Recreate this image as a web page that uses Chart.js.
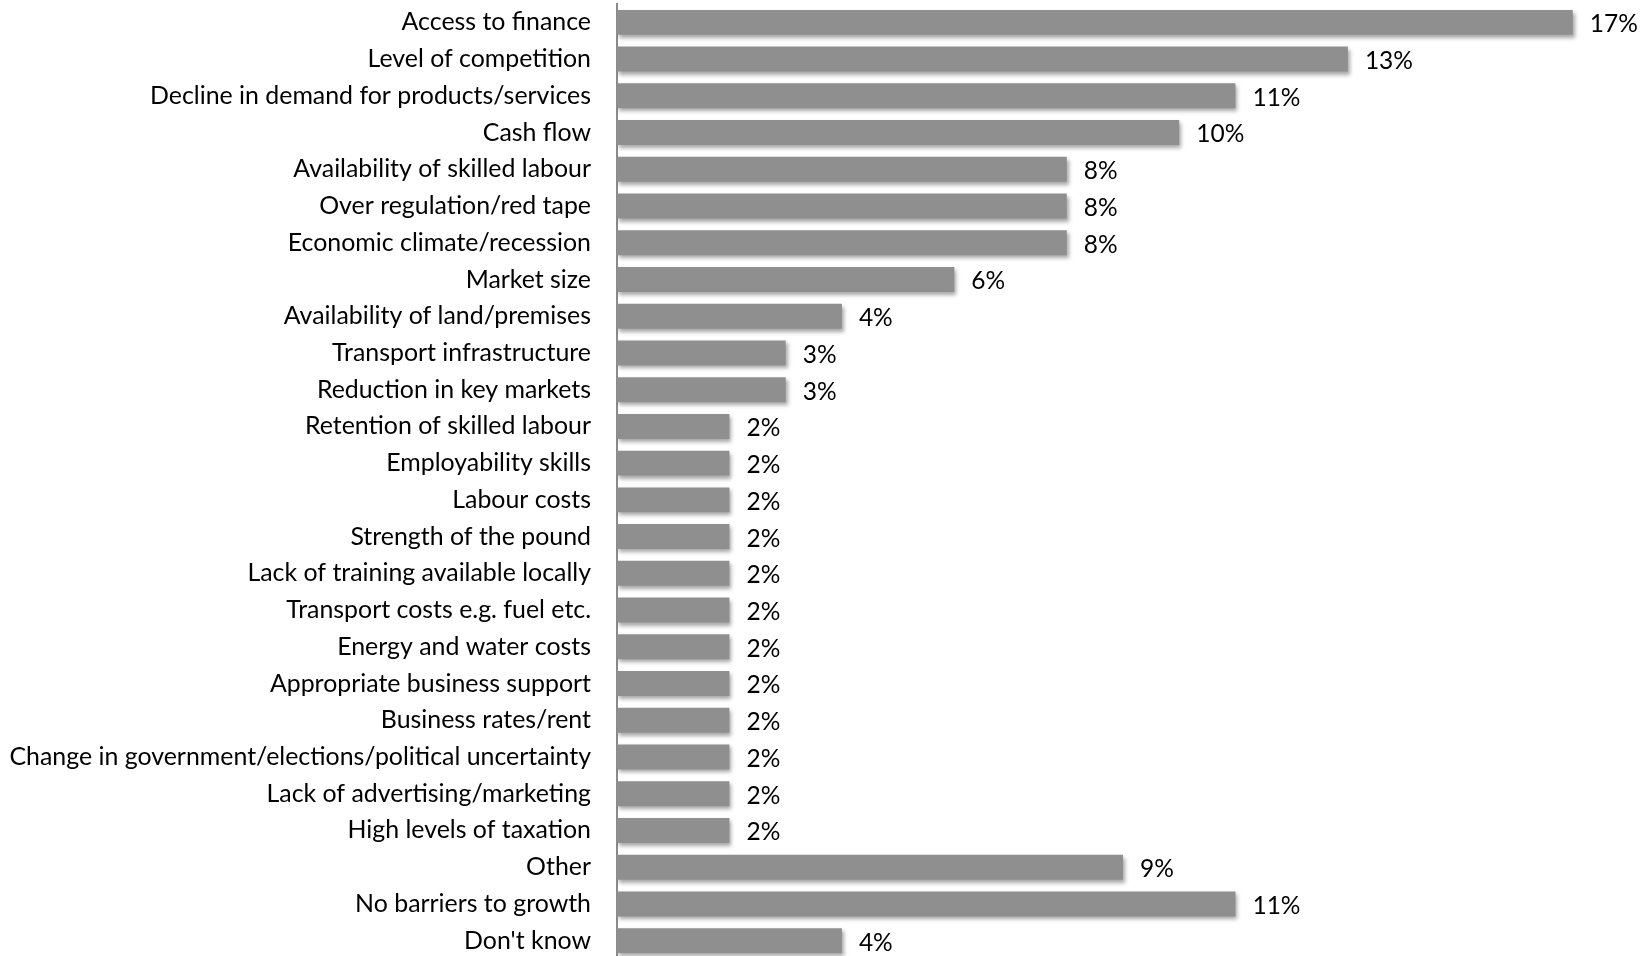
<!DOCTYPE html>
<html>
<head>
<meta charset="utf-8">
<script src="https://cdn.jsdelivr.net/npm/chart.js@4"></script>
<style>
  html, body { margin: 0; padding: 0; background: #fff; overflow: hidden; }
  #wrap { width: 1652px; height: 959px; position: relative; }
</style>
</head>
<body>
<div id="wrap"><canvas id="chart"></canvas></div>
<script>
const barriers = [
  'Access to finance',
  'Level of competition',
  'Decline in demand for products/services',
  'Cash flow',
  'Availability of skilled labour',
  'Over regulation/red tape',
  'Economic climate/recession',
  'Market size',
  'Availability of land/premises',
  'Transport infrastructure',
  'Reduction in key markets',
  'Retention of skilled labour',
  'Employability skills',
  'Labour costs',
  'Strength of the pound',
  'Lack of training available locally',
  'Transport costs e.g. fuel etc.',
  'Energy and water costs',
  'Appropriate business support',
  'Business rates/rent',
  'Change in government/elections/political uncertainty',
  'Lack of advertising/marketing',
  'High levels of taxation',
  'Other',
  'No barriers to growth',
  "Don't know"
];
const shares = [17, 13, 11, 10, 8, 8, 8, 6, 4, 3, 3, 2, 2, 2, 2, 2, 2, 2, 2, 2, 2, 2, 2, 9, 11, 4];

const FONT = 'Lato, "Open Sans", sans-serif';
const FONT_SIZE = 24.5;
const TICK_SIZE = 24.9;

// soft drop shadow under the bars
const barShadow = {
  id: 'barShadow',
  beforeDatasetsDraw(chart) {
    const ctx = chart.ctx;
    ctx.save();
    ctx.shadowColor = 'rgba(0,0,0,0.35)';
    ctx.shadowBlur = 4;
    ctx.shadowOffsetX = 2;
    ctx.shadowOffsetY = 3;
  },
  afterDatasetsDraw(chart) {
    chart.ctx.restore();
  }
};

// percentage text to the right of each bar
const valueLabels = {
  id: 'valueLabels',
  afterDatasetsDraw(chart) {
    const ctx = chart.ctx;
    const meta = chart.getDatasetMeta(0);
    ctx.save();
    ctx.font = FONT_SIZE + 'px ' + FONT;
    ctx.fillStyle = '#000';
    ctx.textAlign = 'left';
    ctx.textBaseline = 'middle';
    meta.data.forEach((bar, i) => {
      ctx.fillText(shares[i] + '%', bar.x + 17, bar.y + 2);
    });
    ctx.restore();
  }
};

new Chart(document.getElementById('chart'), {
  type: 'bar',
  data: {
    labels: barriers,
    datasets: [{
      data: shares,
      backgroundColor: '#8f8f8f',
      borderWidth: 0,
      barPercentage: 0.68,
      categoryPercentage: 1
    }]
  },
  options: {
    indexAxis: 'y',
    responsive: true,
    maintainAspectRatio: false,
    animation: false,
    layout: { padding: { top: 4, right: 23, bottom: 0, left: 0 } },
    scales: {
      x: {
        display: false,
        min: 0,
        max: 18
      },
      y: {
        afterFit(scale) {
          scale.width = 617;
          scale.paddingTop = 0;
          scale.paddingBottom = 0;
        },
        grid: { display: false, drawTicks: false },
        border: { display: true, color: '#8a8a8a', width: 2 },
        ticks: {
          color: '#000',
          padding: 26,
          autoSkip: false,
          font: { family: FONT, size: TICK_SIZE }
        }
      }
    },
    plugins: {
      legend: { display: false },
      tooltip: { enabled: false }
    }
  },
  plugins: [barShadow, valueLabels]
});
</script>
</body>
</html>
